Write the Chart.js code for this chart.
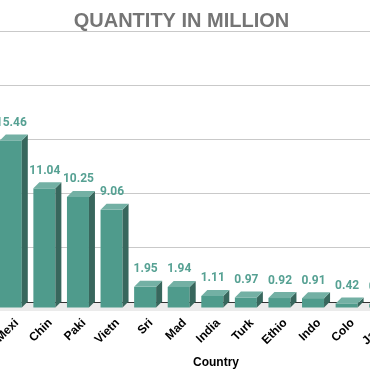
<!DOCTYPE html>
<html>
<head>
<meta charset="utf-8">
<script src="https://cdn.jsdelivr.net/npm/chart.js@4.4.1/dist/chart.umd.min.js"></script>
<style>
  html, body { margin: 0; padding: 0; background: #fff; overflow: hidden; }
  #wrap { position: relative; width: 370px; height: 371px; overflow: hidden; }
  #qtyChart { position: absolute; left: -40px; top: 0; }
</style>
</head>
<body>
<div id="wrap"><canvas id="qtyChart" width="455" height="371"></canvas></div>
<script>
const categories = ["Mexi", "Chin", "Paki", "Vietn", "Sri", "Mad", "India", "Turk", "Ethio", "Indo", "Colo", "Jama"];
const quantities = [15.46, 11.04, 10.25, 9.06, 1.95, 1.94, 1.11, 0.97, 0.92, 0.91, 0.42, 0.35];
const yTicks = [0, 5, 10, 15, 20, 25];

const DEPTH = 6;

// draws each bar as a little box: front, right side and top
const bar3d = {
    id: "bar3d",
    beforeDatasetsDraw(chart) {
        const ctx = chart.ctx;
        const { left, right, bottom } = chart.chartArea;
        ctx.save();
        ctx.fillStyle = "#ebebeb";
        ctx.fillRect(left - DEPTH, bottom, right - left + DEPTH, 9);
        ctx.strokeStyle = "#333333";
        ctx.lineWidth = 1;
        ctx.beginPath();
        ctx.moveTo(left, bottom + 0.5);
        ctx.lineTo(right, bottom + 0.5);
        ctx.stroke();
        ctx.restore();
    },
    afterDatasetsDraw(chart) {
        const ctx = chart.ctx;
        const meta = chart.getDatasetMeta(0);
        ctx.save();
        meta.data.forEach((bar, i) => {
            const p = bar.getProps(["x", "y", "base", "width"], true);
            const l = p.x - p.width / 2;
            const r = p.x + p.width / 2;
            const t = p.y;
            const b = p.base;
            // front
            ctx.fillStyle = "#4f9b8c";
            ctx.fillRect(l - DEPTH, t + DEPTH, p.width, b - t);
            // side
            ctx.fillStyle = "#38675d";
            ctx.beginPath();
            ctx.moveTo(r - DEPTH, t + DEPTH);
            ctx.lineTo(r, t);
            ctx.lineTo(r, b);
            ctx.lineTo(r - DEPTH, b + DEPTH);
            ctx.closePath();
            ctx.fill();
            // top
            ctx.fillStyle = "#73b0a4";
            ctx.beginPath();
            ctx.moveTo(l - DEPTH, t + DEPTH);
            ctx.lineTo(l, t);
            ctx.lineTo(r, t);
            ctx.lineTo(r - DEPTH, t + DEPTH);
            ctx.closePath();
            ctx.fill();
            // value
            ctx.fillStyle = "#56a193";
            ctx.font = "bold 12px Roboto";
            ctx.textAlign = "center";
            ctx.textBaseline = "alphabetic";
            ctx.fillText(quantities[i].toFixed(2), p.x - 5.5, t - 8.5);
        });
        ctx.restore();
    },
    afterDraw(chart) {
        const ctx = chart.ctx;
        const a = chart.chartArea;
        ctx.save();
        ctx.fillStyle = "#000";
        ctx.font = "bold 12px 'Liberation Sans'";
        ctx.textAlign = "center";
        ctx.textBaseline = "alphabetic";
        ctx.fillText("Country", a.left + a.width / 2 + 14.5, 366);
        ctx.restore();
    }
};

const qtyChart = new Chart(document.getElementById("qtyChart"), {
    type: "bar",
    data: {
        labels: categories,
        datasets: [
            {
                label: "Quantity",
                data: quantities,
                backgroundColor: "rgba(0,0,0,0)",
                categoryPercentage: 1,
                barPercentage: 0.655,
            },
        ],
    },
    options: {
        responsive: false,
        animation: false,
        events: [],
        layout: { padding: { left: 0, right: 12, top: 0, bottom: 0 } },
        plugins: {
            legend: { display: false },
            tooltip: { enabled: false },
            title: {
                display: true,
                text: "QUANTITY IN MILLION",
                color: "#757575",
                font: { family: "'Liberation Sans'", size: 20, weight: "bold", lineHeight: 1 },
                padding: { top: 11, bottom: 0 },
            },
        },
        scales: {
            x: {
                grid: { display: false, drawTicks: false },
                border: { display: false },
                ticks: {
                    color: "#000",
                    font: { family: "'Liberation Sans'", size: 12, weight: "bold" },
                    minRotation: 45,
                    maxRotation: 45,
                    padding: 14,
                    autoSkip: false,
                },
                afterFit(scale) { scale.height = 69; },
            },
            y: {
                min: 0,
                max: 25,
                afterBuildTicks(scale) { scale.ticks = yTicks.map(v => ({ value: v })); },
                grid: { color: "#c9c9c9", drawTicks: false },
                border: { display: false },
                ticks: { color: "#444", font: { family: "'Liberation Sans'", size: 11 } },
                afterFit(scale) { scale.width = 40; },
            },
        },
    },
    plugins: [bar3d],
});
</script>
</body>
</html>
